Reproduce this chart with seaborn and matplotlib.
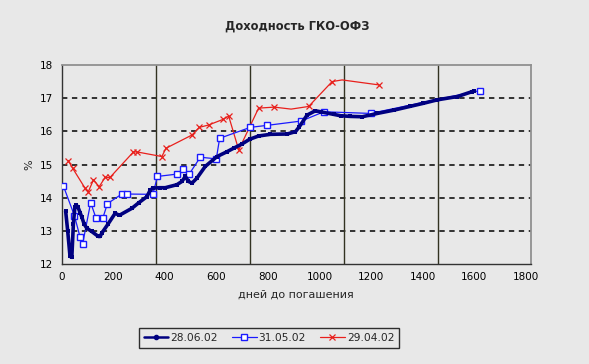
import numpy as np
import pandas as pd
import matplotlib
matplotlib.use("Agg")
import matplotlib.pyplot as plt
import seaborn as sns

# 28.06.02 (thick navy)
days_2806 = [16, 24, 33, 40, 46, 52, 56, 63, 72, 78, 88, 98, 117, 143, 150, 156,
             180, 208, 221, 227, 273, 300, 331, 344, 356, 380, 402, 447, 467, 480,
             492, 506, 525, 557, 603, 640, 667, 700, 729, 764, 810, 875, 907, 922,
             952, 984, 1004, 1056, 1082, 1120, 1166, 1224, 1289, 1350, 1400, 1457,
             1535, 1593, 1600]
vals_2806 = [13.60, 13.00, 12.23, 12.20, 13.20, 13.73, 13.78, 13.73, 13.55, 13.43,
             13.20, 13.08, 12.98, 12.83, 12.83, 12.93, 13.20, 13.53, 13.48, 13.48,
             13.68, 13.85, 14.03, 14.23, 14.29, 14.30, 14.30, 14.39, 14.49, 14.64,
             14.49, 14.44, 14.59, 14.94, 15.24, 15.38, 15.49, 15.62, 15.76, 15.86,
             15.91, 15.92, 15.99, 16.14, 16.49, 16.62, 16.59, 16.51, 16.47, 16.45,
             16.44, 16.54, 16.64, 16.75, 16.84, 16.95, 17.05, 17.20, 17.22]

# 31.05.02 (blue, open squares)
days_3105 = [7, 50, 72, 82, 113, 134, 160, 178, 234, 253, 354, 372, 447, 471, 495,
             538, 600, 613, 732, 797, 929, 1017, 1198, 1623]
vals_3105 = [14.36, 13.46, 12.81, 12.61, 13.85, 13.38, 13.38, 13.82, 14.11, 14.11,
             14.10, 14.64, 14.71, 14.86, 14.71, 15.22, 15.17, 15.79, 16.12, 16.18,
             16.31, 16.59, 16.54, 17.23]

# 29.04.02 (red, x markers)
days_2904 = [26, 43, 91, 104, 124, 146, 169, 188, 279, 292, 389, 405, 506, 534,
             570, 626, 648, 687, 764, 825, 890, 958, 1049, 1088, 1230]
vals_2904 = [15.12, 14.89, 14.29, 14.18, 14.54, 14.33, 14.61, 14.61, 15.38, 15.38,
             15.24, 15.49, 15.89, 16.12, 16.19, 16.36, 16.46, 15.44, 16.70, 16.73,
             16.67, 16.75, 17.50, 17.55, 17.40]
# points drawn without a visible marker in the original
red_unmarked = [890, 1088]

series_names = ["28.06.02", "31.05.02", "29.04.02"]
year_marks = [365, 730, 1095, 1460]
x_ticks = list(range(0, 1801, 200))
y_ticks = list(range(12, 19))

bg = "#e8e8e8"
navy = "#000080"
blue = "#1a1aff"
red = "#e8201c"
sns.set_style("white")
plt.rcParams["font.family"] = ["DejaVu Sans"]

fig = plt.figure(figsize=(5.89, 3.64), dpi=100, facecolor=bg)
ax = fig.add_axes([61.5 / 589, 1 - 264 / 364, (530.5 - 61.5) / 589, (264 - 65) / 364])
ax.set_facecolor(bg)

for y in y_ticks[1:-1]:
    ax.axhline(y, color="black", linestyle=(0, (3.5, 3)), linewidth=1.1, zorder=1)
for x in year_marks:
    ax.axvline(x, color="#333322", linewidth=1.0, zorder=1)

df1 = pd.DataFrame({"d": days_2806, "v": vals_2806})
df2 = pd.DataFrame({"d": days_3105, "v": vals_3105})
df3 = pd.DataFrame({"d": days_2904, "v": vals_2904})
red_marks = [i for i, d in enumerate(days_2904) if d not in red_unmarked]

sns.lineplot(data=df3, x="d", y="v", ax=ax, color=red, linewidth=0.9,
             marker="x", markersize=4.5, markeredgewidth=0.9, markeredgecolor=red,
             markevery=red_marks, sort=False, label=series_names[2], zorder=3)
sns.lineplot(data=df2, x="d", y="v", ax=ax, color=blue, linewidth=0.9,
             marker="s", markersize=4.3, markerfacecolor="white",
             markeredgecolor=blue, markeredgewidth=1.0, sort=False,
             label=series_names[1], zorder=4)
sns.lineplot(data=df1, x="d", y="v", ax=ax, color=navy, linewidth=2.6,
             marker="s", markersize=2.6, markeredgewidth=0, markerfacecolor=navy,
             sort=False, label=series_names[0], zorder=5)

ax.set_xlim(0, 1818)
ax.set_ylim(12, 18)
ax.set_xticks(x_ticks)
ax.set_yticks(y_ticks)
ax.tick_params(axis="both", direction="inout", length=6, width=1, labelsize=7.5,
               colors="black", pad=3)
for side in ["left", "bottom"]:
    ax.spines[side].set_color("#333333")
    ax.spines[side].set_linewidth(1.0)
for side in ["top", "right"]:
    ax.spines[side].set_color("#909090")
    ax.spines[side].set_linewidth(1.3)

ax.set_xlabel("дней до погашения", fontsize=8, labelpad=5)
ax.set_ylabel("%", fontsize=8, labelpad=4)
fig.text(297 / 589, 1 - 26 / 364, "Доходность ГКО-ОФЗ", ha="center", va="center",
         fontsize=8.3, fontweight="bold")

ax.legend_.remove()
h1 = plt.Line2D([], [], color=navy, linewidth=1.8, marker="o", markersize=3,
                markerfacecolor=navy, markeredgecolor=navy)
h2 = plt.Line2D([], [], color=blue, linewidth=0.9, marker="s", markersize=4.3,
                markerfacecolor="white", markeredgecolor=blue, markeredgewidth=1.0)
h3 = plt.Line2D([], [], color=red, linewidth=0.9, marker="x", markersize=4,
                markeredgecolor=red, markeredgewidth=0.9)
leg = fig.legend([h1, h2, h3], series_names,
                 loc="center", bbox_to_anchor=(269 / 589, 1 - 338 / 364), ncol=3,
                 fontsize=7.7, frameon=True, fancybox=False, handlelength=2.3,
                 columnspacing=1.3, handletextpad=0.2, borderpad=0.45,
                 borderaxespad=0)
leg.get_frame().set_edgecolor("black")
leg.get_frame().set_facecolor(bg)
leg.get_frame().set_linewidth(1.0)

fig.savefig("out.png", dpi=100, facecolor=bg)
